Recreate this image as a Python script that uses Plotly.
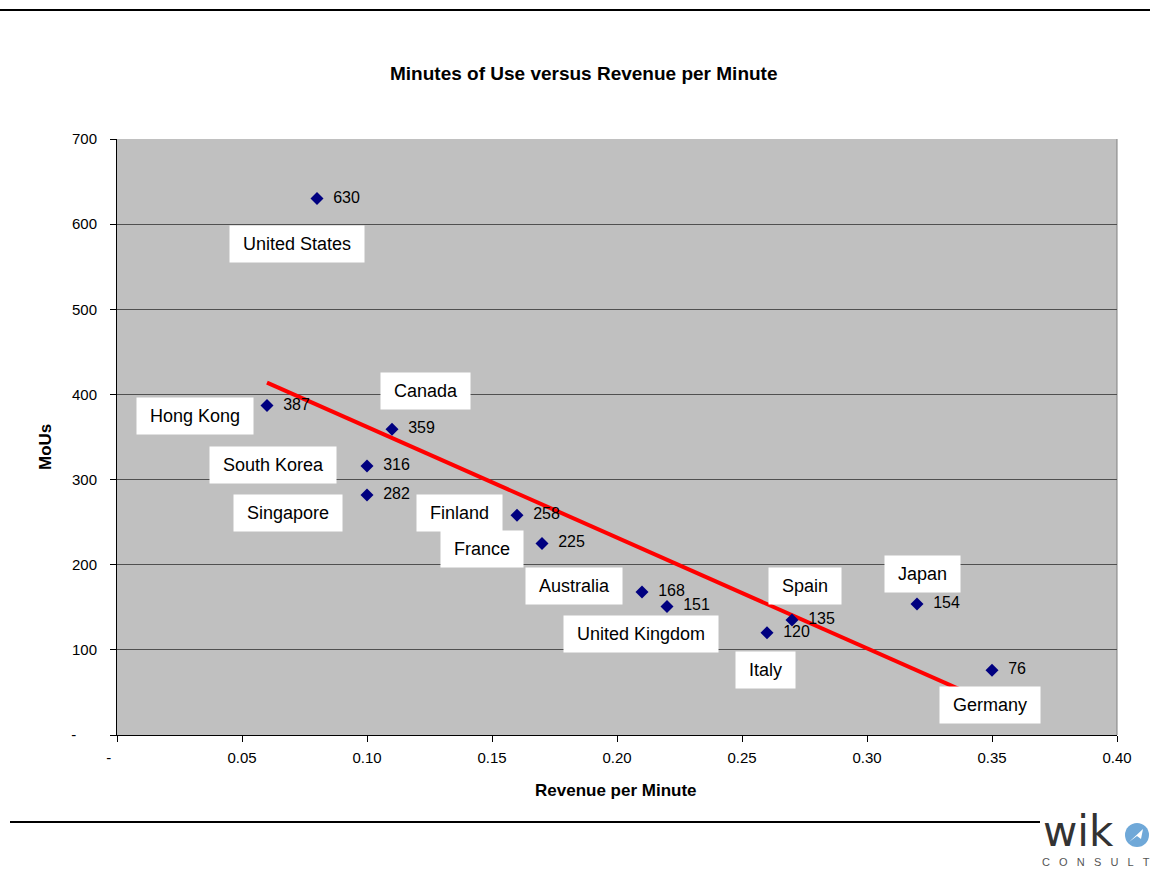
import numpy as np
import plotly.graph_objects as go

# Data: revenue per minute (x) and minutes of use (y) per country
countries = ["United States", "Hong Kong", "Canada", "South Korea", "Singapore",
             "Finland", "France", "Australia", "United Kingdom", "Italy",
             "Spain", "Japan", "Germany"]
revenue_per_minute = [0.08, 0.06, 0.11, 0.10, 0.10, 0.16, 0.17, 0.21, 0.22, 0.26, 0.27, 0.32, 0.35]
mous = [630, 387, 359, 316, 282, 258, 225, 168, 151, 120, 135, 154, 76]

NB = "\u00a0"
x_ticks = [0, 0.05, 0.10, 0.15, 0.20, 0.25, 0.30, 0.35, 0.40]
x_tick_text = ["-" + NB * 4, "0.05", "0.10", "0.15", "0.20", "0.25", "0.30", "0.35", "0.40"]
y_ticks = [0, 100, 200, 300, 400, 500, 600, 700]
y_tick_text = ["-" + NB * 5, "100", "200", "300", "400", "500", "600", "700"]

# Where each country name box sits (data coordinates)
label_pos = {
    "United States": (0.072, 577),
    "Hong Kong": (0.0312, 375),
    "Canada": (0.1232, 404),
    "South Korea": (0.0624, 317),
    "Singapore": (0.0684, 261),
    "Finland": (0.1368, 261),
    "France": (0.146, 219),
    "Australia": (0.1828, 175),
    "United Kingdom": (0.2096, 119),
    "Italy": (0.2592, 76),
    "Spain": (0.2752, 175),
    "Japan": (0.322, 189),
    "Germany": (0.3492, 35),
}

FONT = "Liberation Sans, Arial, sans-serif"

# Linear trend line over the data range
slope, intercept = np.polyfit(revenue_per_minute, mous, 1)
tx = np.array([min(revenue_per_minute), max(revenue_per_minute)])
ty = slope * tx + intercept

fig = go.Figure()
fig.add_trace(go.Scatter(
    x=tx, y=ty, mode="lines",
    line=dict(color="#ff0000", width=4),
    hoverinfo="skip", showlegend=False,
))
fig.add_trace(go.Scatter(
    x=revenue_per_minute, y=mous, mode="markers+text",
    marker=dict(symbol="diamond", color="#000080", size=10),
    text=[NB * 2 + str(v) for v in mous],
    textposition="middle right",
    textfont=dict(family=FONT, size=16, color="#000000"),
    showlegend=False,
))

for name in countries:
    lx, ly = label_pos[name]
    fig.add_annotation(
        x=lx, y=ly, xref="x", yref="y", text=NB + name + NB, showarrow=False,
        font=dict(family=FONT, size=18, color="#000000"),
        bgcolor="#ffffff", borderpad=8,
        xanchor="center", yanchor="middle",
    )


def px_x(p):
    return (p - 117) / 1000


def px_y(p):
    return (735 - p) / 596


# Title and axis titles
fig.add_annotation(
    x=px_x(584), y=px_y(73), xref="paper", yref="paper",
    text="<b>Minutes of Use versus Revenue per Minute</b>", showarrow=False,
    font=dict(family=FONT, size=19, color="#000000"),
    xanchor="center", yanchor="middle",
)
fig.add_annotation(
    x=px_x(616), y=px_y(790), xref="paper", yref="paper",
    text="<b>Revenue per Minute</b>", showarrow=False,
    font=dict(family=FONT, size=17, color="#000000"),
    xanchor="center", yanchor="middle",
)
fig.add_annotation(
    x=px_x(45), y=px_y(447), xref="paper", yref="paper",
    text="<b>MoUs</b>", showarrow=False, textangle=-90,
    font=dict(family=FONT, size=17, color="#000000"),
    xanchor="center", yanchor="middle",
)

# Logo text at the bottom right
fig.add_annotation(
    x=px_x(1078), y=px_y(831), xref="paper", yref="paper",
    text="wik", showarrow=False, height=36,
    font=dict(family="DejaVu Sans, sans-serif", size=42, color="#333333"),
    xanchor="center", yanchor="middle",
)
fig.add_annotation(
    x=px_x(1096), y=px_y(862), xref="paper", yref="paper",
    text=(NB * 3).join("CONSULT"), showarrow=False,
    font=dict(family=FONT, size=11, color="#555555"),
    xanchor="center", yanchor="middle",
)

shapes = [
    # page rules
    dict(type="line", xref="paper", yref="paper", x0=px_x(0), x1=px_x(1150),
         y0=px_y(10), y1=px_y(10), line=dict(color="#000000", width=2)),
    dict(type="line", xref="paper", yref="paper", x0=px_x(10), x1=px_x(1040),
         y0=px_y(822), y1=px_y(822), line=dict(color="#000000", width=2)),
    # right edge of plot area
    dict(type="line", xref="paper", yref="paper", x0=1, x1=1, y0=0, y1=1,
         line=dict(color="#808080", width=1), layer="below"),
    # logo icon
    dict(type="circle", xref="paper", yref="paper",
         x0=px_x(1125), x1=px_x(1149), y0=px_y(847), y1=px_y(823),
         fillcolor="#6fa8d8", line=dict(width=0)),
    dict(type="path", xref="paper", yref="paper",
         path=f"M {px_x(1129)},{px_y(842)} L {px_x(1143)},{px_y(829)} L {px_x(1141)},{px_y(839)} L {px_x(1137)},{px_y(836)} Z",
         fillcolor="#ffffff", line=dict(width=0)),
]

fig.update_layout(
    width=1150, height=869,
    margin=dict(l=117, r=33, t=139, b=134),
    paper_bgcolor="#ffffff", plot_bgcolor="#c0c0c0",
    font=dict(family=FONT, size=15, color="#000000"),
    shapes=shapes,
    showlegend=False,
)
fig.update_xaxes(
    range=[0, 0.40], tickvals=x_ticks, ticktext=x_tick_text,
    showgrid=False, zeroline=False,
    showline=True, linecolor="#000000", linewidth=1,
    ticks="outside", ticklen=6, tickcolor="#000000",
    tickfont=dict(family=FONT, size=15), ticklabelstandoff=3, fixedrange=True,
)
fig.update_yaxes(
    range=[0, 700], tickvals=y_ticks, ticktext=y_tick_text,
    showgrid=True, gridcolor="#505050", gridwidth=1, zeroline=False,
    showline=True, linecolor="#000000", linewidth=1,
    ticks="outside", ticklen=6, tickcolor="#000000",
    tickfont=dict(family=FONT, size=15), ticklabelstandoff=10, fixedrange=True,
)

fig.write_html("out.html")
